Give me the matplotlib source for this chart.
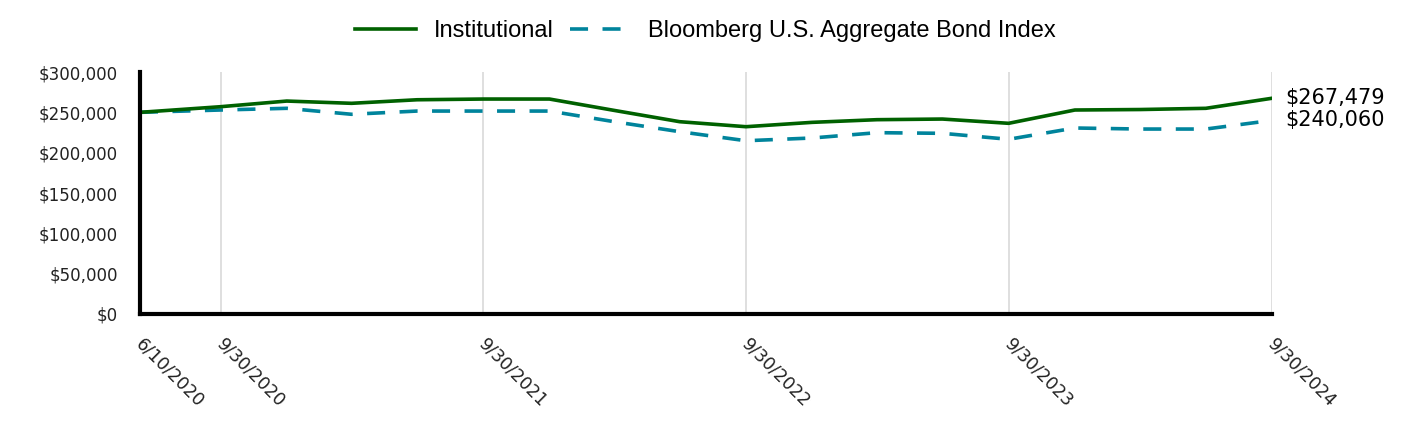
import matplotlib.pyplot as plt
import matplotlib.ticker as mticker
import matplotlib.transforms as mtransforms
import pandas as pd

# Values (growth of $250,000)
dates = ["2020-06-10", "2020-09-30", "2020-12-31", "2021-03-31", "2021-06-30",
         "2021-09-30", "2021-12-31", "2022-03-31", "2022-06-30", "2022-09-30",
         "2022-12-31", "2023-03-31", "2023-06-30", "2023-09-30", "2023-12-31",
         "2024-03-31", "2024-06-30", "2024-09-30"]
institutional = [250000, 257000, 264000, 261200, 265600, 266500, 266500, 252400,
                 238400, 232200, 237600, 240900, 241700, 236400, 252900, 253500,
                 255000, 267479]
bloomberg = [250000, 252900, 255000, 247600, 251600, 251600, 251600, 238400,
             226000, 214800, 218200, 224800, 224000, 216600, 230600, 229300,
             229300, 240060]
tick_dates = ["2020-06-10", "2020-09-30", "2021-09-30", "2022-09-30",
              "2023-09-30", "2024-09-30"]
tick_labels = ["6/10/2020", "9/30/2020", "9/30/2021", "9/30/2022",
               "9/30/2023", "9/30/2024"]

x = pd.to_datetime(dates)
xt = pd.to_datetime(tick_dates)

green = "#006100"
teal = "#00849c"

fig = plt.figure(figsize=(14.28, 4.44), dpi=100)
ax = fig.add_axes([0.098, 0.2928, 0.7928, 0.545])

ax.plot(x, institutional, color=green, lw=2.6, label="Institutional", zorder=3)
ax.plot(x, bloomberg, color=teal, lw=2.6, dashes=(5, 4),
        label="Bloomberg U.S. Aggregate Bond Index", zorder=2)

ax.set_xlim(x[0], x[-1])
ax.set_ylim(0, 300000)
ax.set_yticks(range(0, 300001, 50000))
ax.yaxis.set_major_formatter(mticker.FuncFormatter(lambda v, p: f"${v:,.0f}"))
ax.set_xticks(xt)
ax.set_xticklabels(tick_labels)

for d in xt[1:]:
    ax.axvline(d, color="#d9d9d9", lw=1.2, zorder=1)

for s in ["top", "right"]:
    ax.spines[s].set_visible(False)
for s in ["left", "bottom"]:
    ax.spines[s].set_linewidth(3)
    ax.spines[s].set_color("black")
ax.spines["left"].set_zorder(5)

ax.tick_params(axis="both", length=0, colors="#222222")
ax.tick_params(axis="y", pad=16, labelsize=12)
ax.tick_params(axis="x", pad=15, labelsize=12.5)
shift = mtransforms.ScaledTranslation(5 / 100, 0, fig.dpi_scale_trans)
for lab in ax.get_xticklabels():
    lab.set_rotation(-45)
    lab.set_ha("left")
    lab.set_va("top")
    lab.set_rotation_mode("anchor")
    lab.set_transform(lab.get_transform() + shift)

ax.text(1.012, institutional[-1], f"${institutional[-1]:,}", transform=ax.get_yaxis_transform(),
        fontsize=15, va="center", ha="left")
ax.text(1.012, bloomberg[-1], f"${bloomberg[-1]:,}", transform=ax.get_yaxis_transform(),
        fontsize=15, va="center", ha="left")

fig.legend(loc="center", bbox_to_anchor=(0.494, 0.93), ncol=2, frameon=False,
           prop={"family": "Liberation Sans", "size": 17}, handlelength=2.55,
           columnspacing=0.68, handletextpad=0.76)

fig.savefig("out.png", dpi=100)
